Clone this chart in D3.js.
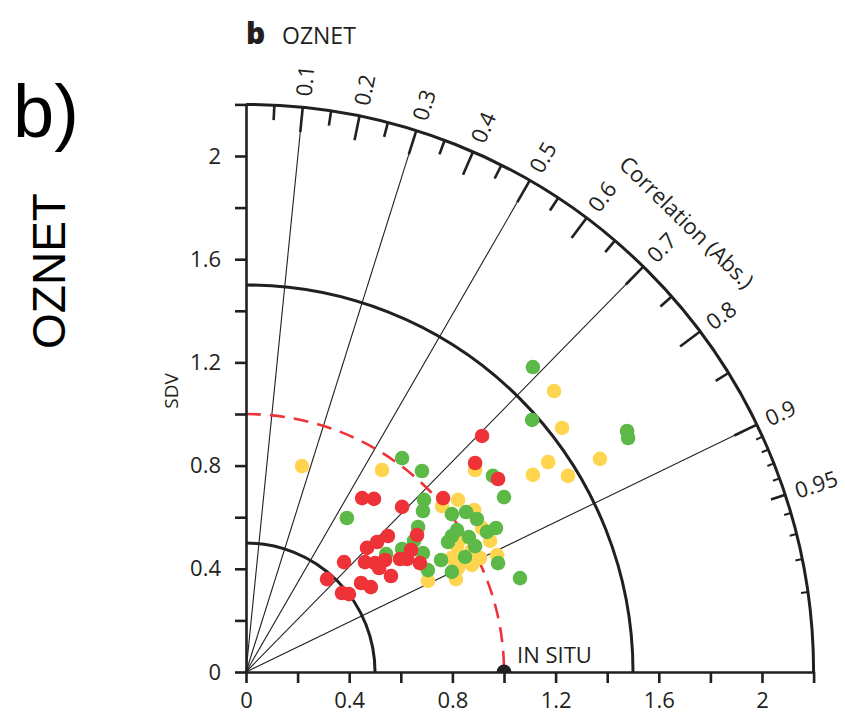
<!DOCTYPE html>
<html>
<head>
<meta charset="utf-8">
<script src="https://cdn.jsdelivr.net/npm/d3@7"></script>
<style>
  body { margin: 0; background: #fff; }
  svg { font-family: "Open Sans", sans-serif; }
</style>
</head>
<body>
<svg id="taylor" width="845" height="712"></svg>
<script>
// standard deviation ticks / circles
var sdTicks = [0, 0.2, 0.4, 0.6, 0.8, 1.0, 1.2, 1.4, 1.6, 1.8, 2.0, 2.2];
var sdLabels = [0, 0.4, 0.8, 1.2, 1.6, 2.0];
var sdArcs = [0.5, 1.5, 2.2];
var refSd = 1.0;
var maxSd = 2.2;

// correlation rays and ticks on the outer arc
var corrLines = [0.1, 0.3, 0.5, 0.7, 0.9];
var corrMajor = [0.1, 0.2, 0.3, 0.4, 0.5, 0.6, 0.7, 0.8, 0.9];
var corrMinor = [0.05, 0.15, 0.25, 0.35, 0.45, 0.55, 0.65, 0.75, 0.85, 0.95];
var corrFine = [0.91, 0.92, 0.93, 0.94, 0.96, 0.97, 0.98, 0.99];
var corrLabels = [0.1, 0.2, 0.3, 0.4, 0.5, 0.6, 0.7, 0.8, 0.9, 0.95];

// products, [x, y] as read on the SDV axes
var yellowPts = [
  [0.217, 0.798], [0.527, 0.783], [1.194, 1.089], [1.225, 0.946], [1.171, 0.814],
  [1.112, 0.764], [1.248, 0.760], [1.372, 0.826], [0.888, 0.783], [0.760, 0.643],
  [0.822, 0.667], [0.884, 0.628], [0.915, 0.558], [0.946, 0.508], [0.818, 0.488],
  [0.876, 0.473], [0.907, 0.442], [0.798, 0.442], [0.822, 0.403], [0.876, 0.415],
  [0.973, 0.453], [0.814, 0.360], [0.705, 0.353], [0.837, 0.519]
];
var greenPts = [
  [1.112, 1.182], [1.109, 0.977], [1.477, 0.934], [1.481, 0.907], [1.062, 0.364],
  [0.605, 0.829], [0.682, 0.779], [0.957, 0.760], [1.000, 0.678], [0.391, 0.597],
  [0.690, 0.667], [0.686, 0.624], [0.798, 0.612], [0.853, 0.620], [0.895, 0.593],
  [0.934, 0.543], [0.969, 0.558], [0.667, 0.562], [0.818, 0.550], [0.798, 0.527],
  [0.783, 0.504], [0.864, 0.523], [0.888, 0.488], [0.605, 0.477], [0.543, 0.457],
  [0.686, 0.461], [0.756, 0.434], [0.849, 0.446], [0.977, 0.422], [0.798, 0.388],
  [0.705, 0.395], [0.651, 0.508]
];
var redPts = [
  [0.915, 0.915], [0.888, 0.810], [0.977, 0.748], [0.764, 0.674], [0.450, 0.674],
  [0.496, 0.671], [0.605, 0.640], [0.550, 0.527], [0.508, 0.504], [0.469, 0.481],
  [0.663, 0.531], [0.640, 0.473], [0.539, 0.434], [0.380, 0.426], [0.461, 0.426],
  [0.500, 0.422], [0.516, 0.403], [0.597, 0.438], [0.624, 0.438], [0.674, 0.422],
  [0.562, 0.372], [0.314, 0.360], [0.446, 0.345], [0.484, 0.329], [0.372, 0.306],
  [0.399, 0.302]
];

var ink = "#231f20";
var origin = { x: 246, y: 672 };
var pxPerUnit = 258;
var svg = d3.select("#taylor");

var x = d3.scaleLinear().domain([0, maxSd]).range([origin.x, origin.x + maxSd * pxPerUnit]);
var y = d3.scaleLinear().domain([0, maxSd]).range([origin.y, origin.y - maxSd * pxPerUnit]);
var r = d3.scaleLinear().domain([0, maxSd]).range([0, maxSd * pxPerUnit]);
var R = r(maxSd);

// point at pixel radius rad along correlation c
function polar(rad, c) {
  return [origin.x + rad * c, origin.y - rad * Math.sqrt(1 - c * c)];
}

function quarter(sd) {
  var p = d3.path();
  p.arc(origin.x, origin.y, r(sd), -Math.PI / 2, 0);
  return p.toString();
}

//correlation rays
svg.append("g")
  .selectAll("line")
  .data(corrLines)
  .enter()
  .append("line")
  .attr("x1", origin.x).attr("y1", origin.y)
  .attr("x2", d => polar(R, d)[0])
  .attr("y2", d => polar(R, d)[1])
  .attr("stroke", ink)
  .attr("stroke-width", 1.1);

//std circles
svg.append("g")
  .selectAll("path")
  .data(sdArcs)
  .enter()
  .append("path")
  .attr("d", d => quarter(d))
  .attr("fill", "none")
  .attr("stroke", ink)
  .attr("stroke-width", 3);

//ticks on outer arc
function arcTicks(vals, len, width) {
  svg.append("g")
    .selectAll("line")
    .data(vals)
    .enter()
    .append("line")
    .attr("x1", d => polar(R, d)[0])
    .attr("y1", d => polar(R, d)[1])
    .attr("x2", d => polar(R - len, d)[0])
    .attr("y2", d => polar(R - len, d)[1])
    .attr("stroke", ink)
    .attr("stroke-width", width);
}
arcTicks(corrMajor, 25, 2.6);
arcTicks(corrMinor, 15, 2.6);
arcTicks(corrFine, 7, 2);

svg.append("g")
  .selectAll("text")
  .data(corrLabels)
  .enter()
  .append("text")
  .attr("transform", d => {
    var p = polar(R + 11, d);
    var ang = Math.acos(d) * 180 / Math.PI;
    return `translate(${p[0]},${p[1]}) rotate(${-ang})`;
  })
  .attr("dy", "0.35em")
  .attr("fill", ink)
  .style("font-size", "22px")
  .text(d => d3.format("~g")(d));

var labelPos = polar(r(2.44), 0.70);
svg.append("text")
  .attr("transform", `translate(${labelPos[0]},${labelPos[1]}) rotate(${90 - Math.acos(0.70) * 180 / Math.PI})`)
  .attr("text-anchor", "middle")
  .attr("dy", "0.35em")
  .attr("fill", ink)
  .style("font-size", "22px")
  .text("Correlation (Abs.)");

//reference sdv circle
svg.append("path")
  .attr("d", quarter(refSd))
  .attr("fill", "none")
  .attr("stroke", "#ee3338")
  .attr("stroke-width", 2.6)
  .attr("stroke-dasharray", "15,9");

//axes
var fmt = d => sdLabels.includes(d) ? d3.format("~g")(d) : "";
function styleAxis(g) {
  g.attr("font-family", null).attr("font-size", null);
  g.selectAll("path, line").attr("stroke", ink).attr("stroke-width", 2.6);
  g.selectAll("text").attr("fill", ink).style("font-size", "22px");
}

svg.append("g")
  .attr("transform", `translate(0,${origin.y})`)
  .call(d3.axisBottom(x).tickValues(sdTicks).tickSize(11).tickSizeOuter(0).tickPadding(9).tickFormat(fmt))
  .call(styleAxis);

svg.append("g")
  .attr("transform", `translate(${origin.x},0)`)
  .call(d3.axisLeft(y).tickValues(sdTicks).tickSize(11).tickSizeOuter(0).tickPadding(14).tickFormat(fmt))
  .call(styleAxis);

svg.append("text")
  .attr("transform", "translate(178,391) rotate(-90)")
  .attr("text-anchor", "middle")
  .attr("fill", ink)
  .style("font-size", "19px")
  .text("SDV");

//draw points
function dots(pts, colour) {
  svg.append("g")
    .selectAll("circle")
    .data(pts)
    .enter()
    .append("circle")
    .attr("cx", d => x(d[0]))
    .attr("cy", d => y(d[1]))
    .attr("r", 7.3)
    .style("fill", colour);
}
dots(yellowPts, "#ffd54f");
dots(greenPts, "#5cb947");
dots(redPts, "#ee3338");

//in situ reference
svg.append("path")
  .attr("transform", `translate(${x(refSd)},${origin.y})`)
  .attr("d", d3.arc().innerRadius(0).outerRadius(7.5).startAngle(-Math.PI / 2).endAngle(Math.PI / 2)())
  .attr("fill", ink);

svg.append("text")
  .attr("x", x(refSd) + 13)
  .attr("y", origin.y - 9)
  .attr("fill", ink)
  .style("font-size", "22px")
  .text("IN SITU");

//titles
svg.append("text")
  .attr("x", 246).attr("y", 44)
  .attr("fill", ink)
  .style("font-size", "30px").style("font-weight", 800)
  .text("b");
svg.append("text")
  .attr("x", 282).attr("y", 44)
  .attr("fill", ink)
  .style("font-size", "23px")
  .text("OZNET");

svg.append("text")
  .attr("x", 13).attr("y", 137)
  .style("font-family", "'Liberation Sans', Arial, sans-serif")
  .style("font-size", "74px")
  .text("b)");
svg.append("text")
  .attr("transform", "translate(65,271) rotate(-90)")
  .attr("text-anchor", "middle")
  .style("font-family", "'Liberation Sans', Arial, sans-serif")
  .style("font-size", "46px")
  .text("OZNET");
</script>
</body>
</html>
